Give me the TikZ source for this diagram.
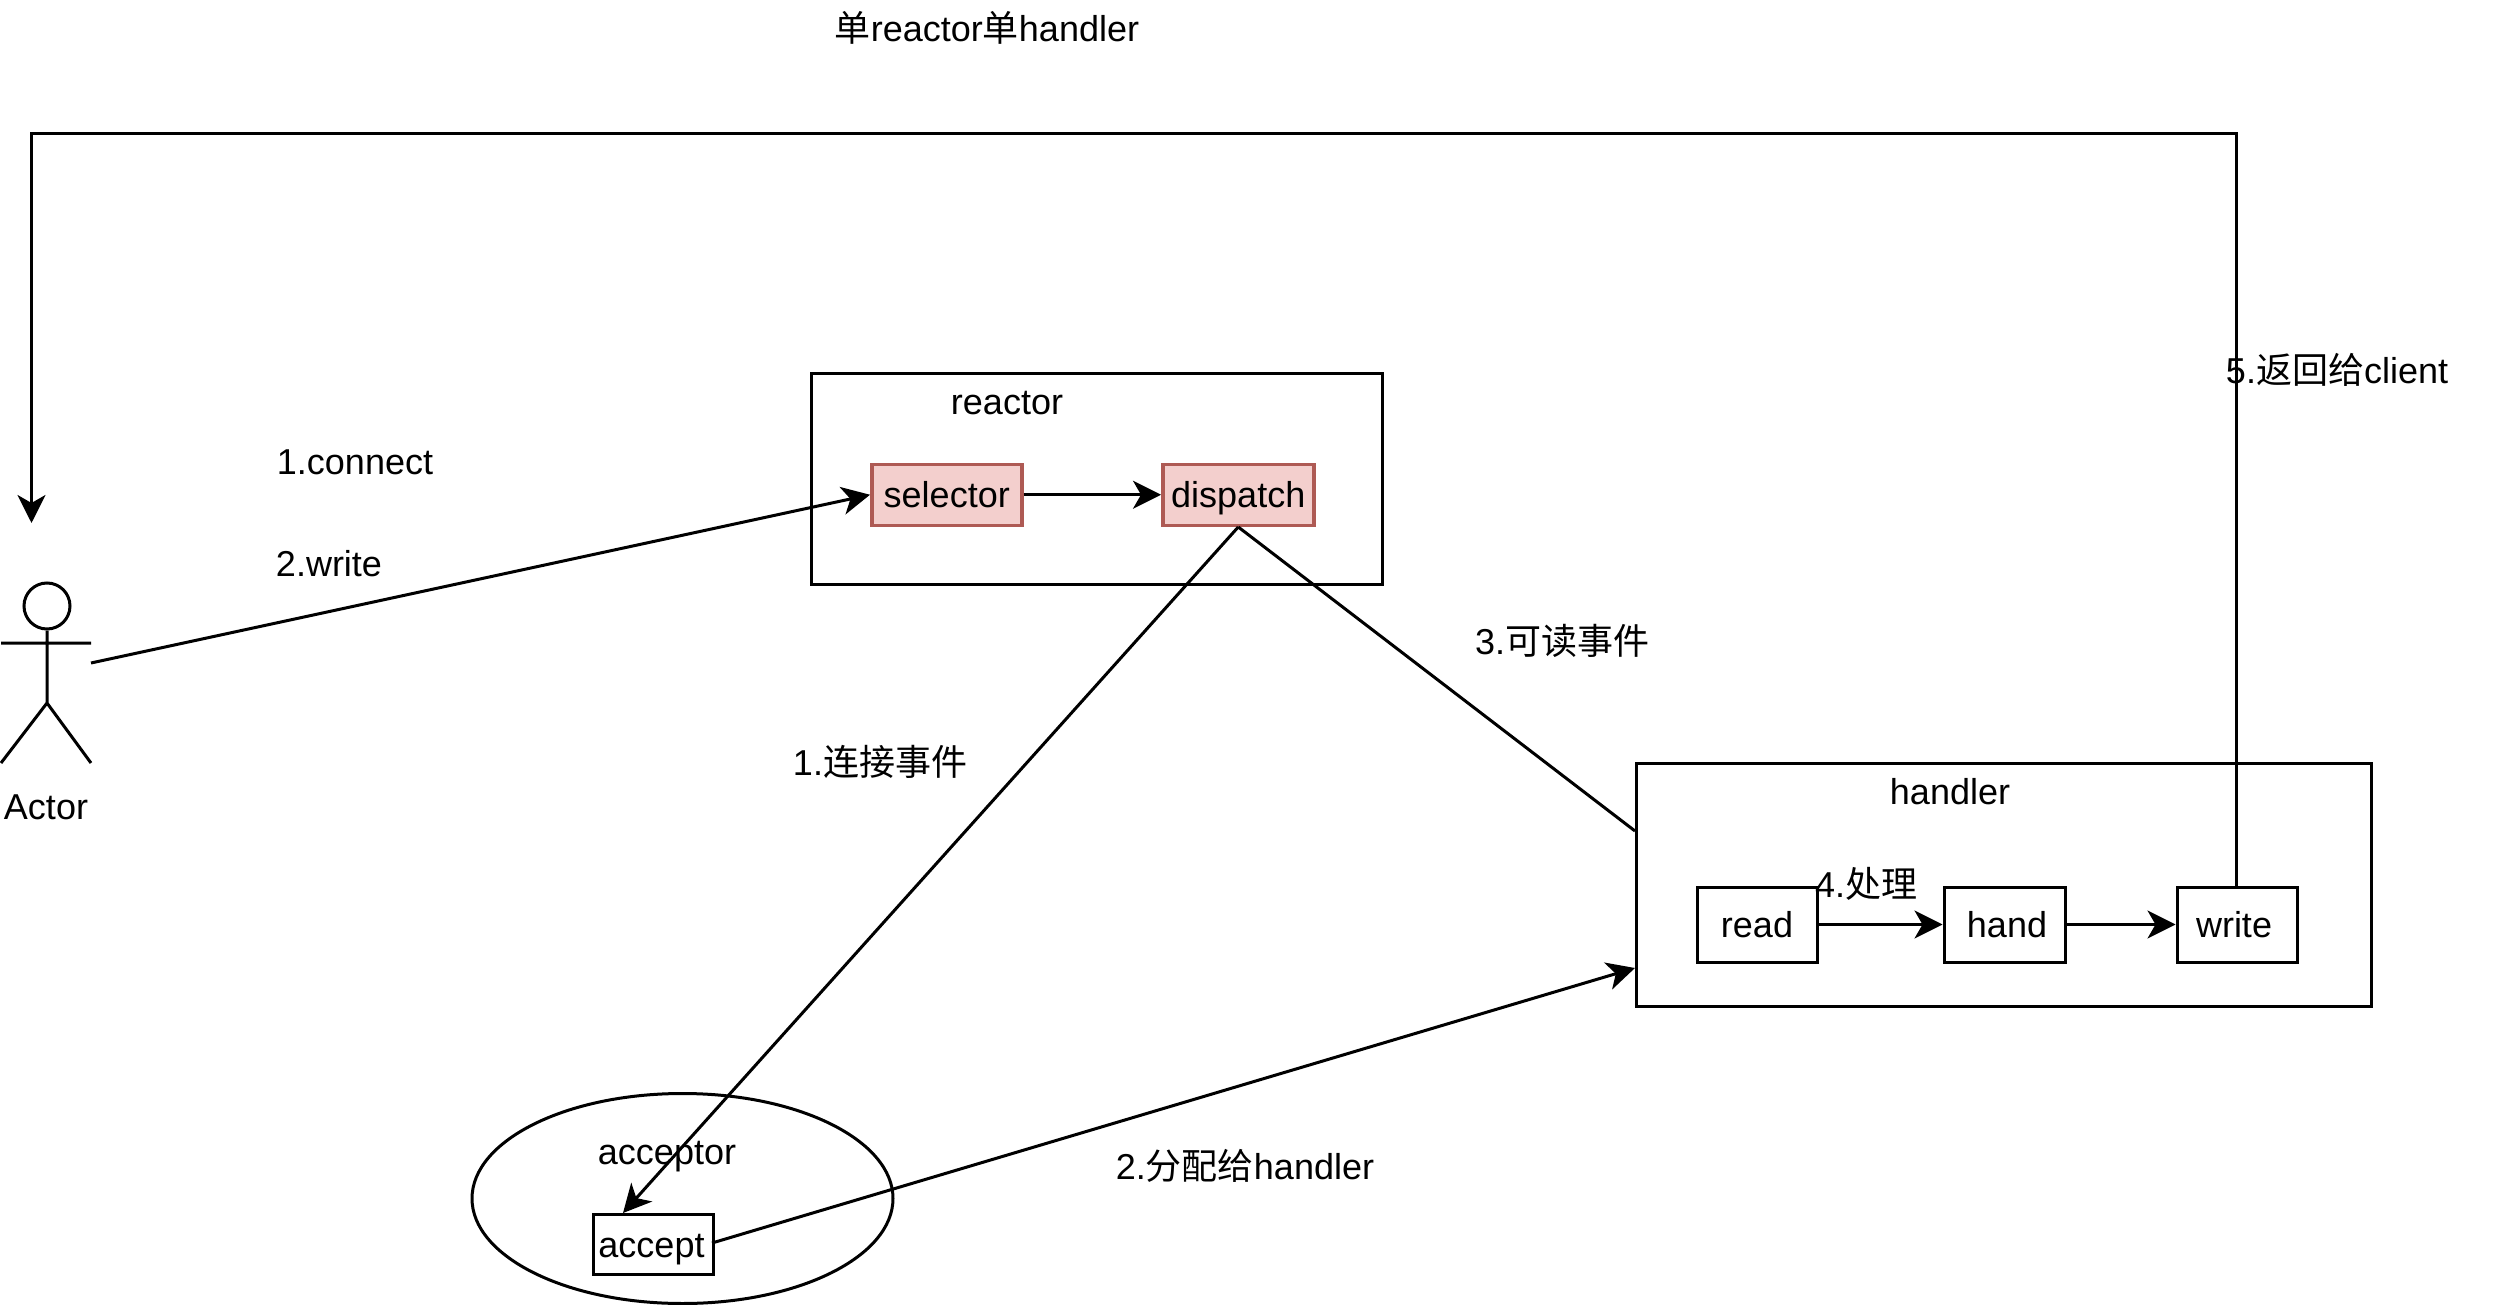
\documentclass[tikz,border=0pt]{standalone}
\usepackage{fontspec}
\setmainfont{Liberation Sans}
\newfontfamily\cjk{Noto Sans CJK SC}
\usetikzlibrary{arrows.meta,shapes.geometric}
\definecolor{redf}{HTML}{F3CFCD}
\definecolor{redb}{HTML}{AE5A54}
\tikzset{
  every node/.style={font=\fontsize{36}{40}\selectfont},
  ln/.style={line width=3pt,draw=black},
  arr/.style={ln,-{Stealth[length=28pt,width=28pt,inset=8pt]}},
  bx/.style={ln,rectangle,inner sep=0pt,anchor=north west},
  pink/.style={rectangle,draw=redb,fill=redf,line width=3.5pt,inner sep=0pt,anchor=north west,minimum width=150pt,minimum height=61pt,text height=33pt,text depth=8pt},
  wbox/.style={bx,minimum width=120pt,minimum height=75pt,text height=33pt,text depth=8pt},
  lbl/.style={inner sep=0pt,text height=26pt,text depth=8pt}
}
\begin{document}
\begin{tikzpicture}[x=1pt,y=-1pt]
\useasboundingbox (0,0) rectangle (2493,1305);
% containers
\node[bx,minimum width=571pt,minimum height=210pt] (reactorbox) at (810,372.5) {};
\node[bx,minimum width=735pt,minimum height=243pt] (handlerbox) at (1635,762) {};
\node[ln,ellipse,inner sep=0pt,minimum width=421pt,minimum height=210pt] (acceptorell) at (682.5,1198.5) {};
% inner boxes
\node[pink] (selector) at (870,462.5) {selector};
\node[pink,minimum width=151pt] (dispatch) at (1161,462.5) {dispatch};
\node[wbox] (read) at (1695.5,885.5) {read};
\node[wbox,minimum width=121pt] (hand) at (1942.5,885.5) {hand\kern-5pt};
\node[wbox] (write) at (2175.5,885.5) {write\kern6pt};
\node[bx,minimum width=120pt,minimum height=60pt,text height=33pt,text depth=8pt] (accept) at (591.5,1213) {accept\kern3pt};
% actor
\node[ln,circle,inner sep=0pt,minimum size=46pt] (head) at (47,606) {};
\coordinate (armL) at (1,643);
\coordinate (armR) at (91,643);
\coordinate (hip) at (47,703);
\coordinate (legL) at (1,763);
\coordinate (legR) at (91,763);
\draw[ln] (head.south) -- (hip) (armL) -- (armR) (legL) -- (hip) -- (legR);
\node[lbl] (actorlbl) at (46,810) {Actor};
% free connector ends
\coordinate (actorOut) at (91,663);
\coordinate (handlerA) at (1635,831);
\coordinate (handlerB) at (1635,968);
\coordinate (acceptTop) at (623,1213);
\coordinate (acceptOut) at (712,1243);
\coordinate (topR) at (2236.5,134);
\coordinate (topL) at (31.5,134);
\coordinate (actorIn) at (31.5,523);
% connectors
\draw[arr] (actorOut) -- (selector.west);
\draw[arr] (selector.east) -- (dispatch.west);
\draw[arr] (dispatch.south) -- (acceptTop);
\draw[ln] (dispatch.south) -- (handlerA);
\draw[arr] (acceptOut) -- (handlerB);
\draw[arr] (read.east) -- (hand.west);
\draw[arr] (hand.east) -- (write.west);
\draw[arr] (write.north -| topR) -- (topR) -- (topL) -- (actorIn);
% labels
\node[lbl] (title) at (987,33) {\cjk 单\normalfont reactor\cjk 单\normalfont handler};
\node[lbl] (connectlbl) at (355,465) {1.connect};
\node[lbl] (writelbl) at (329,567) {2.write};
\node[lbl] (reactorlbl) at (1007,406) {reactor};
\node[lbl] (handlerlbl) at (1950,795) {handler};
\node[lbl] (acceptorlbl) at (667,1155) {acceptor};
\node[lbl] (readable) at (1562,645) {3.{\cjk 可读事件}};
\node[lbl] (connevt) at (880,766) {1.{\cjk 连接事件}};
\node[lbl] (proc) at (1866,888) {4.{\cjk 处理}};
\node[lbl] (ret) at (2337,375) {5.{\cjk 返回给}client};
\node[lbl] (assign) at (1245,1170) {2.{\cjk 分配给}handler};
\end{tikzpicture}
\end{document}
